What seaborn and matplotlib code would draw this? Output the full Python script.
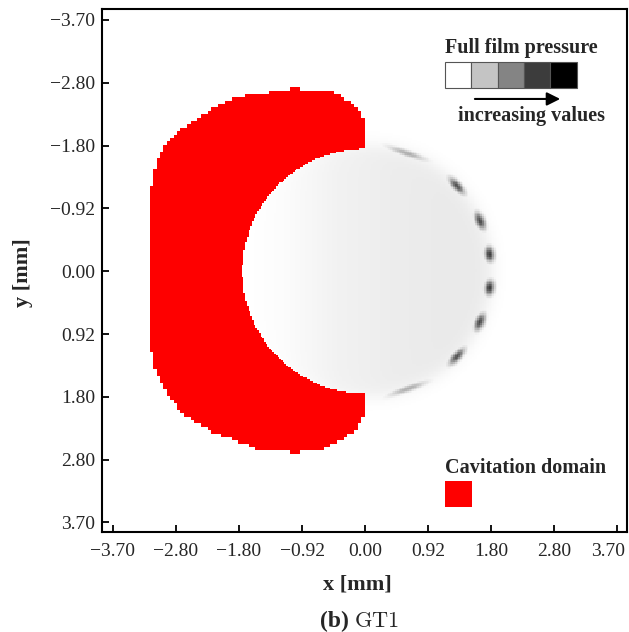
import numpy as np
import matplotlib
matplotlib.use("Agg")
import matplotlib.pyplot as plt
from matplotlib.colors import ListedColormap, LinearSegmentedColormap
from matplotlib.path import Path
from matplotlib.patches import Rectangle
from matplotlib.transforms import ScaledTranslation
import seaborn as sns

# tick labels as printed (ticks are equally spaced on the plot)
tick_values = np.linspace(-3.7, 3.7, 9)
tick_labels = ["−3.70", "−2.80", "−1.80", "−0.92", "0.00", "0.92", "1.80", "2.80", "3.70"]

# outline of the cavitation domain [mm]
cav_x = [0.00, -0.05, -0.12, -0.25, -0.32, -0.51, -0.95, -0.95, -1.13, -1.13, -1.58, -1.94,
         -2.23, -2.46, -2.76, -2.96, -3.08, -3.18, -3.18, -3.08, -2.90, -2.62, -2.23,
         -1.84, -1.58, -1.13, -1.13, -0.95, -0.95, -0.62, -0.41, -0.12, -0.05, 0.00]
cav_y = [-2.14, -2.30, -2.40, -2.50, -2.56, -2.66, -2.66, -2.73, -2.73, -2.66, -2.62, -2.54,
         -2.39, -2.24, -2.05, -1.84, -1.55, -1.06, 1.00, 1.45, 1.84, 2.14, 2.37,
         2.52, 2.63, 2.63, 2.70, 2.70, 2.63, 2.63, 2.52, 2.33, 2.20, 2.04]

# full film region (disc) and its grey level across x (0 = white)
film_radius = 1.8
bg_x = [-1.8, -1.2, -0.4, 0.4, 1.2, 1.8]
bg_level = [0.0, 0.015, 0.055, 0.075, 0.085, 0.085]

# pressure peaks along the rim
peak_angle = [-70.5, -43.0, -23.7, -7.8, 7.6, 24.0, 43.0, 70.0]
peak_level = [0.32, 0.68, 0.72, 0.76, 0.76, 0.72, 0.68, 0.32]
peak_len = [0.27, 0.14, 0.12, 0.10, 0.10, 0.12, 0.14, 0.27]
peak_wid = [0.045, 0.055, 0.06, 0.065, 0.065, 0.06, 0.055, 0.045]
peak_r = 1.84

legend_greys = ["#ffffff", "#c4c4c4", "#848484", "#3c3c3c", "#000000"]
cav_color = "#fe0000"

# fine grid for the field, coarse cells for the cavitation outline
step = 0.025
coarse = 0.05
x0, y0 = -3.86, -3.86
n = 308
xc = x0 + (np.arange(n) + 0.5) * step
yc = y0 + (np.arange(n) + 0.5) * step
X, Y = np.meshgrid(xc, yc)
R = np.hypot(X, Y)

# pressure field
edge = 1 / (1 + np.exp((R - 1.86) / 0.07))
pres = np.interp(X, bg_x, bg_level) * edge
for a, lv, L, W in zip(peak_angle, peak_level, peak_len, peak_wid):
    t = np.deg2rad(a)
    cx, cy = peak_r * np.cos(t), peak_r * np.sin(t)
    u = (X - cx) * (-np.sin(t)) + (Y - cy) * np.cos(t)
    v = (X - cx) * np.cos(t) + (Y - cy) * np.sin(t)
    pres = np.maximum(pres, lv * np.exp(-(u / L) ** 2 - (v / W) ** 2))

# cavitation mask
Xs = x0 + (np.floor((X - x0) / coarse) + 0.5) * coarse
Ys = y0 + (np.floor((Y - y0) / coarse) + 0.5) * coarse
path = Path(np.column_stack([cav_x, cav_y]))
inside = path.contains_points(np.column_stack([Xs.ravel(), Ys.ravel()])).reshape(X.shape)
cav = inside & (R >= film_radius)

sns.set_style("white")
plt.rcParams['font.family'] = ['Liberation Serif', 'DejaVu Serif']

fig = plt.figure(figsize=(6.29, 6.32), dpi=100)
ax = fig.add_axes([102 / 629, 1 - 532 / 632, 525 / 629, 523 / 632])

film_cmap = LinearSegmentedColormap.from_list("film", ["white", "black"])
sns.heatmap(pres, cmap=film_cmap, vmin=0, vmax=1, cbar=False,
            xticklabels=False, yticklabels=False, ax=ax)
sns.heatmap(np.ones_like(pres), mask=~cav, cmap=ListedColormap([cav_color]), vmin=0, vmax=1,
            cbar=False, xticklabels=False, yticklabels=False, ax=ax)
ax.set_axisbelow(False)

for s in ax.spines.values():
    s.set_visible(True)
    s.set_linewidth(1.5)
    s.set_color("black")

ax.set_xticks((tick_values - x0) / step)
ax.set_xticklabels(tick_labels)
ax.set_yticks((tick_values - y0) / step)
ax.set_yticklabels(tick_labels, rotation=0)
ax.tick_params(bottom=True, left=True, direction="in", length=5, width=1.3,
               labelsize=14, pad=5, color="black")
ax.tick_params(axis="x", pad=8)
# last x label kept inside the figure, as in the original
last = ax.get_xticklabels()[-1]
last.set_ha("right")
last.set_transform(last.get_transform() + ScaledTranslation(0.08, 0, fig.dpi_scale_trans))

ax.set_xlabel("x [mm]", fontsize=16, fontweight="bold")
ax.xaxis.set_label_coords(0.486, -0.082)
ax.set_ylabel("y [mm]", fontsize=16, fontweight="bold")
ax.yaxis.set_label_coords(-0.131, 0.495)

# legend for the pressure grey scale
ax.text(0.653, 0.925, "Full film pressure", transform=ax.transAxes, fontsize=14.5,
        fontweight="bold", ha="left", va="center")
for i, c in enumerate(legend_greys):
    ax.add_patch(Rectangle((0.653 + i * 0.0503, 0.849), 0.0503, 0.0497, transform=ax.transAxes,
                           facecolor=c, edgecolor="#555555", lw=0.8))
ax.annotate("", xy=(0.878, 0.828), xytext=(0.705, 0.828), xycoords="axes fraction",
            arrowprops=dict(arrowstyle="-|>", lw=1.5, mutation_scale=20, color="black"))
ax.text(0.678, 0.796, "increasing values", transform=ax.transAxes, fontsize=14.5,
        fontweight="bold", ha="left", va="center")

# legend for the cavitation domain
ax.text(0.653, 0.122, "Cavitation domain", transform=ax.transAxes, fontsize=14.5,
        fontweight="bold", ha="left", va="center")
ax.add_patch(Rectangle((0.653, 0.048), 0.0514, 0.0497, transform=ax.transAxes,
                       facecolor=cav_color, edgecolor="none"))

fig.text(320 / 629, 0.008, "(b)", fontsize=17, fontweight="bold", ha="left", va="baseline")
fig.text(354 / 629, 0.008, r"$\mathrm{GT1}$", fontsize=16, math_fontfamily="cm",
         ha="left", va="baseline")

fig.savefig("out.png", dpi=100)
